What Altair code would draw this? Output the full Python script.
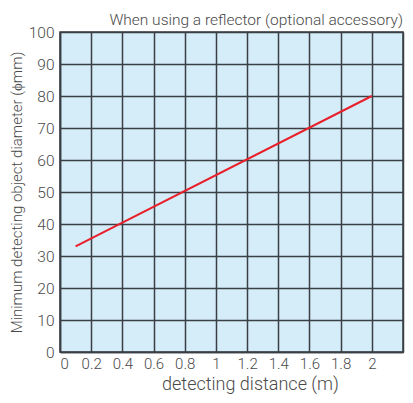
import altair as alt
import pandas as pd

distance = [0.1, 2.0]
diameter = [33, 80]

df = pd.DataFrame({"distance": distance, "diameter": diameter})

x_grid = [0, 0.2, 0.4, 0.6, 0.8, 1.0, 1.2, 1.4, 1.6, 1.8, 2.0, 2.2]
y_grid = [0, 10, 20, 30, 40, 50, 60, 70, 80, 90, 100]

FONT = "Roboto"
TXT = "#4a4a4a"
GRID = "#3a3f44"

chart = alt.Chart(df).mark_line(color="#e8202a", strokeWidth=2).encode(
    x=alt.X("distance:Q",
            scale=alt.Scale(domain=[0, 2.2], nice=False, zero=False),
            axis=alt.Axis(values=x_grid, title="detecting distance (m)",
                          labelExpr="datum.value > 2.1 ? '' : toString(round(datum.value*10)/10)",
                          grid=True, gridColor=GRID, gridWidth=1.5, gridOpacity=1,
                          domainColor=GRID, domainWidth=1.5, ticks=False,
                          labelFont=FONT, labelFontSize=15, labelFontWeight=300,
                          labelColor=TXT, labelPadding=4,
                          titleFont=FONT, titleFontSize=18, titleFontWeight=300,
                          titleColor=TXT, titlePadding=4, titleX=190, titleAnchor="start",
                          titleAlign="center")),
    y=alt.Y("diameter:Q",
            scale=alt.Scale(domain=[0, 100], nice=False),
            axis=alt.Axis(values=y_grid, title="Minimum detecting object diameter (ϕmm)",
                          grid=True, gridColor=GRID, gridWidth=1.5, gridOpacity=1,
                          domainColor=GRID, domainWidth=1.5, ticks=False,
                          labelFont=FONT, labelFontSize=15.5, labelFontWeight=300,
                          labelColor=TXT, labelPadding=6,
                          titleFont=FONT, titleFontSize=15, titleFontWeight=300,
                          titleColor=TXT, titlePadding=4)),
).properties(
    width=343,
    height=320,
    title=alt.TitleParams("When using a reflector (optional accessory)", anchor="end",
                          font=FONT, fontSize=15.5, fontWeight=300, color=TXT, offset=-3),
    autosize=alt.AutoSizeParams(type="none"),
    padding={"left": 52, "top": 24, "right": 2, "bottom": 43},
).configure_view(
    fill="#d5ecf9", stroke=GRID, strokeWidth=1.5
)

chart.save("out.html", embed_options={"renderer": "svg", "actions": False})
